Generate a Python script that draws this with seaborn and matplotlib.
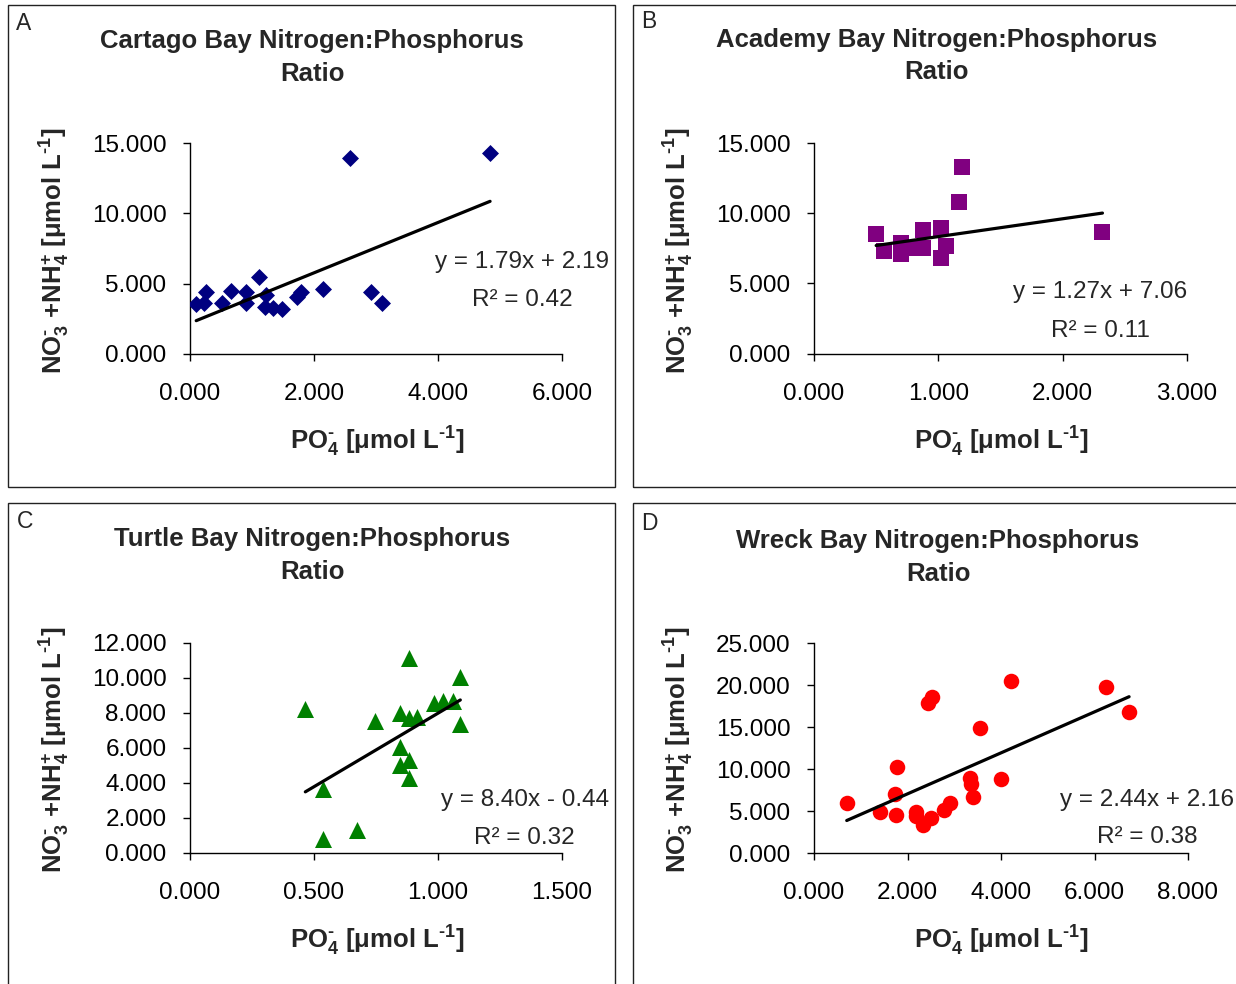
import matplotlib
matplotlib.use("Agg")
import matplotlib.pyplot as plt
import seaborn as sns
import numpy as np
import pandas as pd
from matplotlib.patches import Rectangle
from matplotlib.ticker import FormatStrFormatter

# values
cartago_po4 = [0.10, 0.26, 0.23, 0.51, 0.66, 0.91, 0.91, 1.11, 1.23, 1.21,
               1.34, 1.49, 1.72, 1.79, 2.14, 2.58, 2.92, 3.09, 4.84]
cartago_n = [3.55, 4.38, 3.60, 3.65, 4.50, 4.43, 3.65, 5.45, 4.19, 3.36,
             3.25, 3.19, 4.07, 4.38, 4.60, 13.95, 4.38, 3.60, 14.30]

academy_po4 = [0.50, 0.56, 0.70, 0.70, 0.77, 0.88, 0.88, 1.02, 1.02, 1.06,
               1.17, 1.19, 2.32]
academy_n = [8.55, 7.33, 7.86, 7.09, 7.50, 8.80, 7.50, 8.93, 6.83, 7.66,
             10.78, 13.26, 8.69]

turtle_po4 = [0.465, 0.536, 0.536, 0.674, 0.747, 0.847, 0.882, 0.915, 0.882,
              0.847, 0.847, 0.884, 0.882, 0.985, 1.022, 1.060, 1.090, 1.090]
turtle_n = [8.18, 3.62, 0.80, 1.28, 7.53, 7.99, 7.67, 7.73, 11.14,
            6.05, 5.00, 5.28, 4.23, 8.56, 8.68, 8.68, 10.05, 7.33]

wreck_po4 = [0.70, 1.42, 1.73, 1.75, 1.78, 2.19, 2.18, 2.33, 2.51, 2.43, 2.53,
             2.78, 2.91, 3.33, 3.35, 3.40, 3.55, 3.99, 4.21, 6.25, 6.74]
wreck_n = [6.00, 4.92, 7.00, 4.52, 10.20, 4.92, 4.40, 3.32, 4.12, 17.85, 18.60,
           5.12, 6.00, 8.93, 8.24, 6.72, 14.85, 8.85, 20.50, 19.73, 16.80]

titles = ["Cartago Bay Nitrogen:Phosphorus\nRatio",
          "Academy Bay Nitrogen:Phosphorus\nRatio",
          "Turtle Bay Nitrogen:Phosphorus\nRatio",
          "Wreck Bay Nitrogen:Phosphorus\nRatio"]
panel_letters = ["A", "B", "C", "D"]
slopes = [1.79, 1.27, 8.40, 2.44]
intercepts = [2.19, 7.06, -0.44, 2.16]
eq_labels = ["y = 1.79x + 2.19", "y = 1.27x + 7.06",
             "y = 8.40x - 0.44", "y = 2.44x + 2.16"]
r2_labels = ["R² = 0.42", "R² = 0.11", "R² = 0.32", "R² = 0.38"]
x_ticks = [[0, 2, 4, 6], [0, 1, 2, 3], [0, 0.5, 1.0, 1.5], [0, 2, 4, 6, 8]]
y_ticks = [[0, 5, 10, 15], [0, 5, 10, 15], [0, 2, 4, 6, 8, 10, 12],
           [0, 5, 10, 15, 20, 25]]

sns.set_style("white")
plt.rcParams["font.family"] = ["Liberation Sans", "DejaVu Sans"]
plt.rcParams["mathtext.fontset"] = "custom"
plt.rcParams["mathtext.rm"] = "Liberation Sans:bold"
plt.rcParams["mathtext.it"] = "Liberation Sans:bold"
plt.rcParams["mathtext.bf"] = "Liberation Sans:bold"

W, H = 1236, 984
fig = plt.figure(figsize=(W / 100, H / 100), dpi=100)

# axes boxes in pixels: left, top(y of max), right, bottom(y of zero)
ax_px = [(190, 143, 562, 354), (814, 143, 1187, 353.5),
         (190, 642.5, 562, 852.5), (814, 643, 1188, 853)]
# panel frames in pixels: left, top, right, bottom
frames = [(8, 5, 615, 487), (633, 5, 1242, 487),
          (8, 503, 615, 990), (633, 503, 1242, 990)]
title_pos = [(312, 57.5), (937, 56), (312, 555.5), (938, 557.5)]
letter_pos = [(24, 23), (649, 22), (25, 522), (649, 523)]
eq_pos = [(0.892, 0.436, 0.256), (0.767, 0.29, 0.105),
          (0.90, 0.248, 0.067), (0.89, 0.252, 0.076)]

bays = [
    (cartago_po4, cartago_n, "D", "#000080", 75),
    (academy_po4, academy_n, "s", "#800080", 125),
    (turtle_po4, turtle_n, "^", "#008000", 150),
    (wreck_po4, wreck_n, "o", "#FF0000", 125),
]

xlab = r"PO$_4^{‐}$ [$\mu$mol L$^{‐1}$]"
ylab = r"NO$_3^{‐}$ +NH$_4^{+}$ [$\mu$mol L$^{‐1}$]"

for i, (px, ny, marker, color, size) in enumerate(bays):
    l, t, r, b = ax_px[i]
    ax = fig.add_axes([l / W, 1 - b / H, (r - l) / W, (b - t) / H])
    df = pd.DataFrame({"po4": px, "n": ny})
    sns.scatterplot(data=df, x="po4", y="n", marker=marker, color=color,
                    s=size, linewidth=0, ax=ax, zorder=3)
    # trend line over the data range
    xs = np.array([min(px), max(px)])
    line = pd.DataFrame({"po4": xs, "n": slopes[i] * xs + intercepts[i]})
    sns.lineplot(data=line, x="po4", y="n", color="black", linewidth=2.3,
                 ax=ax, zorder=4)

    ax.set_xlim(x_ticks[i][0], x_ticks[i][-1])
    ax.set_ylim(y_ticks[i][0], y_ticks[i][-1])
    ax.set_xticks(x_ticks[i])
    ax.set_yticks(y_ticks[i])
    ax.xaxis.set_major_formatter(FormatStrFormatter("%.3f"))
    ax.yaxis.set_major_formatter(FormatStrFormatter("%.3f"))
    ax.tick_params(axis="both", direction="out", length=5, width=1,
                   color="black", labelsize=17.5, labelcolor="black",
                   left=True, bottom=True)
    ax.tick_params(axis="x", pad=16)
    ax.tick_params(axis="y", pad=12)
    for s in ["top", "right"]:
        ax.spines[s].set_visible(False)
    for s in ["left", "bottom"]:
        ax.spines[s].set_color("black")
        ax.spines[s].set_linewidth(1)
    ax.set_xlabel("")
    ax.set_ylabel("")
    ax.patch.set_alpha(0)

    # axis titles placed relative to the plot box
    fig.text((l + 187) / W, 1 - (b + 88) / H, xlab, ha="center", va="center",
             fontsize=18.5, fontweight="bold")
    fig.text((l - 135) / W, 1 - ((t + b) / 2 + 2) / H, ylab, rotation=90,
             ha="center", va="center", fontsize=18.5, fontweight="bold")

    ex, ey1, ey2 = eq_pos[i]
    ax.text(ex, ey1, eq_labels[i], transform=ax.transAxes, ha="center",
            va="center", fontsize=17.5)
    ax.text(ex, ey2, r2_labels[i], transform=ax.transAxes, ha="center",
            va="center", fontsize=17.5)

    fl, ft, fr, fb = frames[i]
    fig.add_artist(Rectangle((fl / W, 1 - fb / H), (fr - fl) / W,
                             (fb - ft) / H, transform=fig.transFigure,
                             fill=False, edgecolor="#222222", linewidth=1))
    tx, ty = title_pos[i]
    fig.text(tx / W, 1 - ty / H, titles[i], ha="center", va="center",
             fontsize=18.5, fontweight="bold", linespacing=1.45)
    lx, ly = letter_pos[i]
    fig.text(lx / W, 1 - ly / H, panel_letters[i], ha="center", va="center",
             fontsize=16.5)

fig.savefig("out.png", dpi=100)
